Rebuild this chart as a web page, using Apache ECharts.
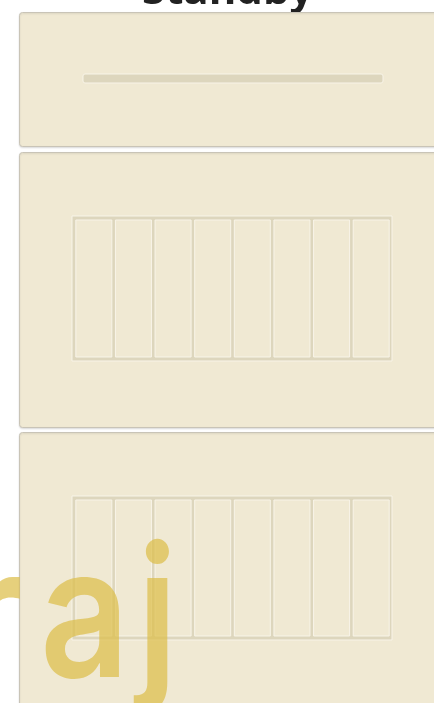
<!DOCTYPE html>
<html>
<head>
<meta charset="utf-8">
<script src="https://cdn.jsdelivr.net/npm/echarts@6/dist/echarts.min.js"></script>
<style>
html,body{margin:0;padding:0;background:#ffffff;}
#chart{width:434px;height:703px;}
</style>
</head>
<body>
<div id="chart"></div>
<script>
// ---- data ----
var titleText = 'Standby';
var watermarkText = 'raj';
var trackCategories = ['Standby'];
var trackValues = [0];
var columnCategories = ['1', '2', '3', '4', '5', '6', '7', '8'];
var panel2Values = [0, 0, 0, 0, 0, 0, 0, 0];
var panel3Values = [0, 0, 0, 0, 0, 0, 0, 0];

var PANEL_BG = '#f0e9d3';
var PANEL_BORDER = '#c9c4b7';
var TRACK = '#ddd6bd';
var LIGHT = '#f8f4e8';

var chart = echarts.init(document.getElementById('chart'), null, {renderer: 'canvas'});

function panel(y, h) {
  return {
    type: 'rect', z: -10, silent: true,
    shape: {x: 19.5, y: y + 0.5, width: 440, height: h, r: 3},
    style: {fill: PANEL_BG, stroke: PANEL_BORDER, lineWidth: 1,
      shadowColor: 'rgba(0,0,0,0.12)', shadowBlur: 2, shadowOffsetY: 1}
  };
}

function hiddenVal(gridIndex, extra) {
  return Object.assign({type: 'value', gridIndex: gridIndex, show: false, min: 0, max: 1,
    splitLine: {show: false}}, extra || {});
}

// watermark: one text, each letter a rich token so the spacing can follow the picture
var WM_FONT = {fontFamily: 'Inter', fontWeight: 600, fontSize: 181};
var wmPads = [20, 9, 0];
var wmRich = {};
var wmText = watermarkText.split('').map(function (ch, i) {
  var key = 'c' + i;
  wmRich[key] = Object.assign({padding: [0, wmPads[i] || 0, 0, 0]}, WM_FONT);
  return '{' + key + '|' + ch + '}';
}).join('');

var option = {
  animation: false,
  backgroundColor: '#ffffff',
  title: {
    text: titleText, left: 137, top: -34, z: -20,
    textStyle: {fontFamily: 'Open Sans', fontWeight: 'bold', fontSize: 42, color: '#222222'}
  },
  graphic: [
    panel(12, 134),
    panel(152, 275),
    panel(432, 300),
    {
      type: 'text', z: 100, silent: true,
      x: -39, y: 623, scaleX: 0.86,
      style: {
        text: wmText,
        rich: wmRich,
        font: '600 181px Inter',
        fill: 'rgba(221,190,73,0.72)',
        verticalAlign: 'middle', align: 'left'
      }
    }
  ],
  grid: [
    {left: 83, top: 74, width: 300, height: 9, show: false},
    {left: 72, top: 216, width: 320, height: 145, show: true, backgroundColor: TRACK, borderColor: LIGHT, borderWidth: 1},
    {left: 74, top: 220, width: 317, height: 137, show: false},
    {left: 72, top: 496, width: 320, height: 144, show: true, backgroundColor: TRACK, borderColor: LIGHT, borderWidth: 1},
    {left: 74, top: 500, width: 317, height: 136, show: false}
  ],
  xAxis: [
    {type: 'value', gridIndex: 0, show: false, min: 0, max: 100, splitLine: {show: false}},
    hiddenVal(1),
    {type: 'category', gridIndex: 2, data: columnCategories, show: false},
    hiddenVal(3),
    {type: 'category', gridIndex: 4, data: columnCategories, show: false}
  ],
  yAxis: [
    {type: 'category', gridIndex: 0, data: trackCategories, show: false},
    hiddenVal(1),
    {type: 'value', gridIndex: 2, show: false, min: 0, max: 100, splitLine: {show: false}},
    hiddenVal(3),
    {type: 'value', gridIndex: 4, show: false, min: 0, max: 100, splitLine: {show: false}}
  ],
  series: [
    {
      type: 'bar', xAxisIndex: 0, yAxisIndex: 0, data: trackValues, barWidth: 9,
      showBackground: true,
      backgroundStyle: {color: TRACK, borderColor: LIGHT, borderWidth: 1, borderRadius: 2},
      itemStyle: {color: '#c9a43a'}
    },
    {
      type: 'bar', xAxisIndex: 2, yAxisIndex: 2, data: panel2Values, barWidth: 36,
      showBackground: true,
      backgroundStyle: {color: PANEL_BG, borderColor: LIGHT, borderWidth: 1},
      itemStyle: {color: '#c9a43a'}
    },
    {
      type: 'bar', xAxisIndex: 4, yAxisIndex: 4, data: panel3Values, barWidth: 36,
      showBackground: true,
      backgroundStyle: {color: PANEL_BG, borderColor: LIGHT, borderWidth: 1},
      itemStyle: {color: '#c9a43a'}
    }
  ]
};
chart.setOption(option);
</script>
</body>
</html>
